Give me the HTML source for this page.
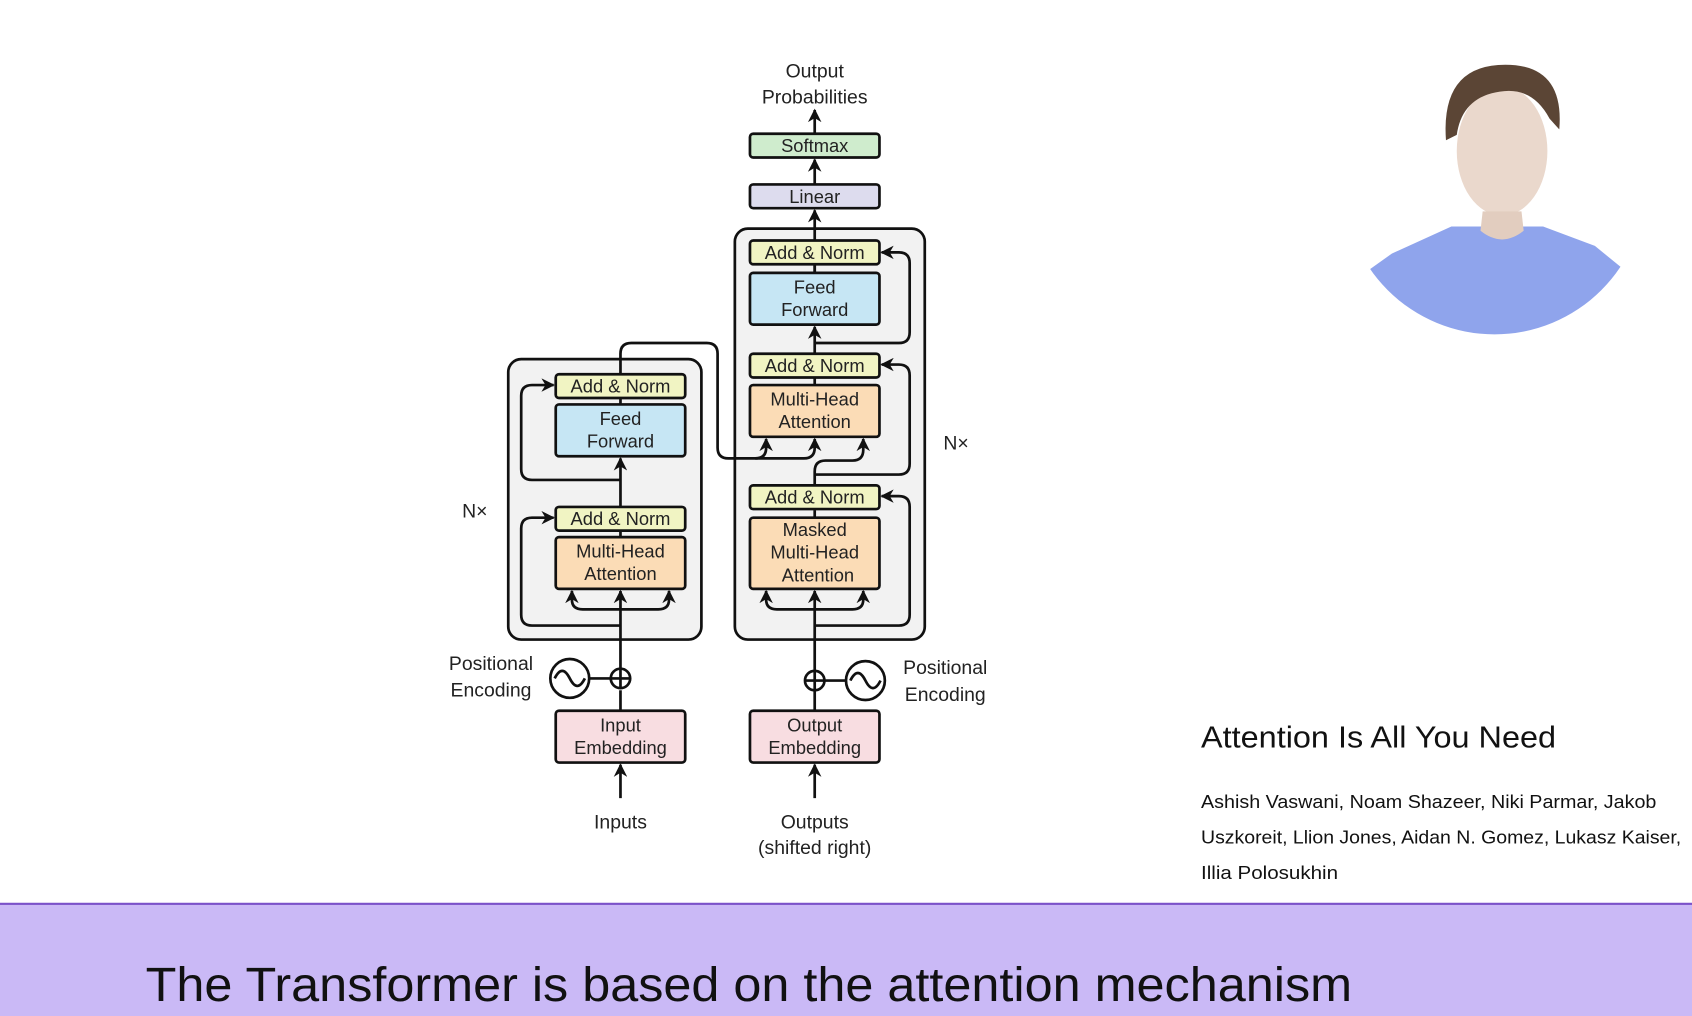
<!DOCTYPE html>
<html><head><meta charset="utf-8"><style>
html,body{margin:0;padding:0;background:#fff;width:1692px;height:1016px;overflow:hidden}
svg{display:block}
.d{font-family:"Liberation Sans",sans-serif;font-size:17px;fill:#222;text-anchor:middle}
</style></head><body>
<svg width="1692" height="1016" viewBox="0 0 1568 942" preserveAspectRatio="none" xmlns="http://www.w3.org/2000/svg">
<defs>
<marker id="a" viewBox="0 0 10 10" refX="9" refY="5" markerWidth="5" markerHeight="5" orient="auto"><path d="M0,0L10,5L0,10L3,5z" fill="#111"/></marker>
<clipPath id="cc"><circle cx="1385" cy="170" r="140"/></clipPath>
</defs>
<rect width="1568" height="942" fill="#fff"/>
<g clip-path="url(#cc)">
<path d="M1262,255 L1290,235 L1345,210 L1430,210 L1478,228 L1505,250 L1505,320 L1262,320z" fill="#8fa4ec"/>
</g>
<ellipse cx="1392" cy="140" rx="42" ry="60" fill="#ead8cc"/>
<path d="M1340,130 Q1335,60 1395,60 Q1450,60 1445,120 L1436,110 Q1420,80 1390,85 Q1355,90 1350,125z" fill="#5b4535"/>
<path d="M1372,214 Q1392,230 1412,214 L1410,196 L1374,196z" fill="#e2cdbf"/>
<rect x="471" y="333" width="179" height="260" rx="12" fill="#f2f2f2" stroke="#111" stroke-width="2.5"/>
<rect x="681" y="212" width="176" height="381" rx="12" fill="#f2f2f2" stroke="#111" stroke-width="2.5"/>
<g stroke="#111" stroke-width="2.5" fill="none">
<path d="M575,740 L575,709" marker-end="url(#a)"/>
<path d="M575,659 L575,640"/>
<path d="M575,620 L575,548" marker-end="url(#a)"/>
<path d="M575,565 L540,565 Q530,565 530,556 L530,548" marker-end="url(#a)"/>
<path d="M575,565 L610,565 Q620,565 620,556 L620,548" marker-end="url(#a)"/>
<path d="M575,580 L493,580 Q483,580 483,570 L483,490 Q483,480 493,480 L513,480" marker-end="url(#a)"/>
<path d="M575,492 L575,425" marker-end="url(#a)"/>
<path d="M575,445 L493,445 Q483,445 483,435 L483,367 Q483,357 493,357 L513,357" marker-end="url(#a)"/>
<path d="M575,347 L575,328 Q575,318 585,318 L655,318 Q665,318 665,328 L665,415 Q665,425 675,425 L700,425 Q710,425 710,415 L710,407" marker-end="url(#a)"/>
<path d="M700,425 L745,425 Q755,425 755,415 L755,407" marker-end="url(#a)"/>
<path d="M546,629 L566,629"/>
<path d="M755,740 L755,709" marker-end="url(#a)"/>
<path d="M755,659 L755,640"/>
<path d="M755,622 L755,548" marker-end="url(#a)"/>
<path d="M755,565 L720,565 Q710,565 710,556 L710,548" marker-end="url(#a)"/>
<path d="M755,565 L790,565 Q800,565 800,556 L800,548" marker-end="url(#a)"/>
<path d="M755,580 L833,580 Q843,580 843,570 L843,470 Q843,460 833,460 L817,460" marker-end="url(#a)"/>
<path d="M755,450 L755,437 Q755,427 765,427 L790,427 Q800,427 800,417 L800,407" marker-end="url(#a)"/>
<path d="M755,440 L833,440 Q843,440 843,430 L843,348 Q843,338 833,338 L817,338" marker-end="url(#a)"/>
<path d="M755,357 L755,350"/>
<path d="M755,328 L755,303" marker-end="url(#a)"/>
<path d="M755,318 L833,318 Q843,318 843,308 L843,244 Q843,234 833,234 L817,234" marker-end="url(#a)"/>
<path d="M755,253 L755,245"/>
<path d="M755,223 L755,195" marker-end="url(#a)"/>
<path d="M755,171 L755,148" marker-end="url(#a)"/>
<path d="M755,124 L755,102" marker-end="url(#a)"/>
<path d="M764,631 L784,631"/>
<path d="M575,370 L575,375"/><path d="M575,493 L575,498"/><path d="M755,473 L755,480"/><path d="M755,246 L755,253"/>
</g>
<g stroke="#111" stroke-width="2.5">
<rect x="515" y="347" width="120" height="22" rx="3" fill="#f1f4c3"/>
<rect x="515" y="375" width="120" height="48" rx="3" fill="#c6e6f4"/>
<rect x="515" y="470" width="120" height="22" rx="3" fill="#f1f4c3"/>
<rect x="515" y="498" width="120" height="48" rx="3" fill="#fbdcb6"/>
<rect x="515" y="659" width="120" height="48" rx="3" fill="#f8dde1"/>
<rect x="695" y="124" width="120" height="22" rx="3" fill="#cfeccd"/>
<rect x="695" y="171" width="120" height="22" rx="3" fill="#dddcee"/>
<rect x="695" y="223" width="120" height="22" rx="3" fill="#f1f4c3"/>
<rect x="695" y="253" width="120" height="48" rx="3" fill="#c6e6f4"/>
<rect x="695" y="328" width="120" height="22" rx="3" fill="#f1f4c3"/>
<rect x="695" y="357" width="120" height="48" rx="3" fill="#fbdcb6"/>
<rect x="695" y="450" width="120" height="22" rx="3" fill="#f1f4c3"/>
<rect x="695" y="480" width="120" height="66" rx="3" fill="#fbdcb6"/>
<rect x="695" y="659" width="120" height="48" rx="3" fill="#f8dde1"/>
<circle cx="575" cy="629" r="9" fill="#fff"/><path d="M566,629H584M575,620V638" fill="none"/>
<circle cx="755" cy="631" r="9" fill="#fff"/><path d="M746,631H764M755,622V640" fill="none"/>
<circle cx="528" cy="629" r="18" fill="#fff"/><path d="M514,629 Q521,615 528,629 Q535,643 542,629" fill="none"/>
<circle cx="802" cy="631" r="18" fill="#fff"/><path d="M788,631 Q795,617 802,631 Q809,645 816,631" fill="none"/>
</g>
<g class="d">
<text x="575" y="364">Add &amp; Norm</text>
<text x="575" y="394">Feed</text><text x="575" y="415">Forward</text>
<text x="575" y="487">Add &amp; Norm</text>
<text x="575" y="517">Multi-Head</text><text x="575" y="538">Attention</text>
<text x="575" y="678">Input</text><text x="575" y="699">Embedding</text>
<text x="755" y="141">Softmax</text>
<text x="755" y="188">Linear</text>
<text x="755" y="240">Add &amp; Norm</text>
<text x="755" y="272">Feed</text><text x="755" y="293">Forward</text>
<text x="755" y="345">Add &amp; Norm</text>
<text x="755" y="376">Multi-Head</text><text x="755" y="397">Attention</text>
<text x="755" y="467">Add &amp; Norm</text>
<text x="755" y="497">Masked</text><text x="755" y="518">Multi-Head</text><text x="758" y="539">Attention</text>
<text x="755" y="678">Output</text><text x="755" y="699">Embedding</text>
<text x="755" y="72" font-size="18">Output</text><text x="755" y="96" font-size="18">Probabilities</text>
<text x="440" y="480" font-size="18">N×</text>
<text x="886" y="417" font-size="18">N×</text>
<text x="455" y="621" font-size="18">Positional</text><text x="455" y="646" font-size="18">Encoding</text>
<text x="876" y="625" font-size="18">Positional</text><text x="876" y="650" font-size="18">Encoding</text>
<text x="575" y="768" font-size="18">Inputs</text>
<text x="755" y="768" font-size="18">Outputs</text><text x="755" y="792" font-size="18">(shifted right)</text>
</g>
<g font-family="'Liberation Sans',sans-serif" fill="#111">
<text x="1113" y="693" font-size="28" textLength="329" lengthAdjust="spacingAndGlyphs">Attention Is All You Need</text>
<text x="1113" y="749" font-size="17.5" textLength="422" lengthAdjust="spacingAndGlyphs">Ashish Vaswani, Noam Shazeer, Niki Parmar, Jakob</text>
<text x="1113" y="782" font-size="17.5" textLength="445" lengthAdjust="spacingAndGlyphs">Uszkoreit, Llion Jones, Aidan N. Gomez, Lukasz Kaiser,</text>
<text x="1113" y="815" font-size="17.5" textLength="127" lengthAdjust="spacingAndGlyphs">Illia Polosukhin</text>
</g>
<rect x="0" y="838" width="1568" height="104" fill="#cab9f6"/>
<rect x="0" y="837" width="1568" height="2" fill="#7b52c9"/>
<text x="135" y="928" font-family="'Liberation Sans',sans-serif" font-size="45" fill="#111" textLength="1118" lengthAdjust="spacingAndGlyphs">The Transformer is based on the attention mechanism</text>
</svg>
</body></html>
